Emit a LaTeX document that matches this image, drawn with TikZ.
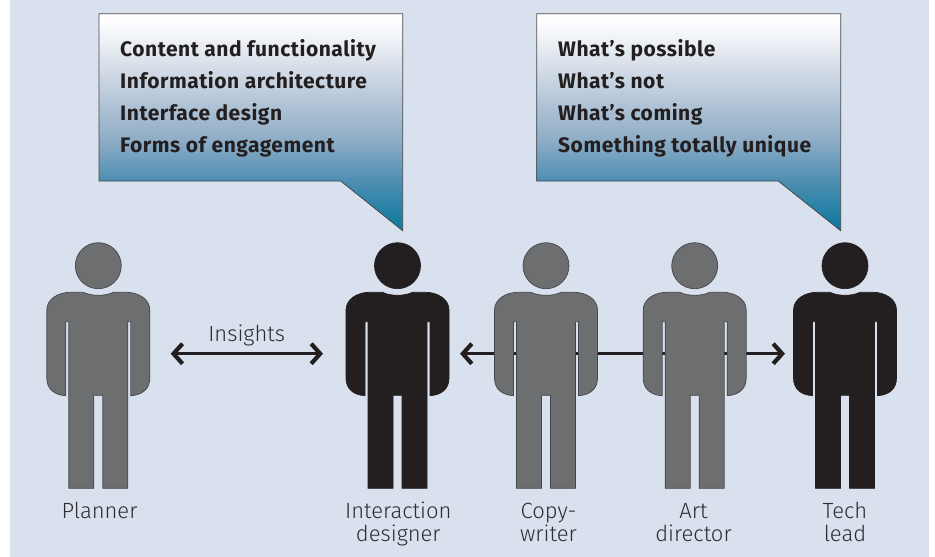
\documentclass[tikz,border=0pt]{standalone}
\usepackage{fontspec}
\setmainfont{Fira Sans}
\newfontfamily\bubblefont[LetterSpace=2.5]{Fira Sans}
\newfontfamily\labelfont{Fira Sans Light}
\usetikzlibrary{arrows.meta}
\definecolor{pagebg}{HTML}{D9E0EE}
\definecolor{persgray}{HTML}{6D6E70}
\definecolor{persdark}{HTML}{231F20}
\definecolor{edgegray}{HTML}{46474A}
\definecolor{labelcol}{HTML}{2E2E30}
\definecolor{gradA}{HTML}{DDE3EC}
\definecolor{gradB}{HTML}{B5C6D8}
\definecolor{gradC}{HTML}{8FADC6}
\definecolor{gradD}{HTML}{4F8FB2}
\definecolor{gradE}{HTML}{0A789E}
\pgfdeclareverticalshading{bubblegrad}{100bp}{
  color(0bp)=(gradE);
  color(25bp)=(gradE);
  color(36.8bp)=(gradD);
  color(46bp)=(gradC);
  color(55.2bp)=(gradB);
  color(64.4bp)=(gradA);
  color(73.6bp)=(white);
  color(100bp)=(white)
}
\tikzset{
  x=1pt, y=-1pt,
  persgrayst/.style={fill=persgray, draw=edgegray, line width=0.7pt},
  persdarkst/.style={fill=persdark, draw=persdark, line width=0.7pt},
  person/.pic={
    \path[pic actions] (0,265.7) circle[radius=23pt];
    \path[pic actions] (-29.5,488.3) -- (-29.5,321.7) -- (-32.5,321.7) -- (-32.5,395.7)
      .. controls (-44,395) and (-51.5,389) .. (-51.5,378)
      -- (-51.5,310)
      .. controls (-51.5,299) and (-40,292.3) .. (-28,292.3)
      -- (-15,292.3)
      .. controls (-7,296.3) and (7,296.3) .. (15,292.3)
      -- (28,292.3)
      .. controls (40,292.3) and (51.5,299) .. (51.5,310)
      -- (51.5,378)
      .. controls (51.5,389) and (44,395) .. (32.5,395.7)
      -- (32.5,321.7) -- (29.5,321.7) -- (29.5,488.3)
      -- (4.5,488.3) -- (4.5,395.3) -- (-4.5,395.3) -- (-4.5,488.3) -- cycle;
  },
  bubble/.style={shading=bubblegrad, draw=edgegray, line width=0.8pt, line join=miter},
  bubbletext/.style={anchor=base west, inner sep=0pt, text=persdark, font=\fontsize{21}{24}\bubblefont\bfseries},
  personlabel/.style={anchor=base, inner sep=0pt, text=labelcol, font=\fontsize{22}{24}\labelfont},
  link/.style={draw=persdark, line width=2.6pt, {Straight Barb[length=9pt,width=20pt,line width=4.2pt]}-{Straight Barb[length=9pt,width=20pt,line width=4.2pt]}},
}
\begin{document}
\begin{tikzpicture}
\useasboundingbox (0,0) rectangle (935,557);
\fill[white] (0,0) rectangle (935,557);
\fill[pagebg] (10,0) rectangle (929,557);

% bubbles
\path[bubble] (99,13.7) -- (402.7,13.7) -- (402.7,230.7) -- (340.7,181) -- (99,181) -- cycle;
\path[bubble] (536.7,13.7) -- (840.7,13.7) -- (840.7,230.7) -- (778.3,181) -- (536.7,181) -- cycle;

\node[bubbletext] (a1) at (120,56.7) {Content and functionality};
\node[bubbletext] (a2) at (120,88.7) {Information architecture};
\node[bubbletext] (a3) at (120,120.7) {Interface design};
\node[bubbletext] (a4) at (120,152.7) {Forms of engagement};
\node[bubbletext] (b1) at (558,56.7) {What’s possible};
\node[bubbletext] (b2) at (558,88.7) {What’s not};
\node[bubbletext] (b3) at (558,120.7) {What’s coming};
\node[bubbletext] (b4) at (558,152.7) {Something totally unique};

% connectors (behind the figures)
\coordinate (insL) at (170.7,353.7);
\coordinate (insR) at (323,353.7);
\coordinate (teamL) at (460,353.7);
\coordinate (teamR) at (785,353.7);
\draw[link] (insL) -- (insR);
\draw[link] (teamL) -- (teamR);
\node[personlabel] (ins) at (246.7,341.7) {Insights};

% figures
\pic[persgrayst] at (98.3,0) {person};
\pic[persdarkst] at (397.5,0) {person};
\pic[persgrayst] at (546,0) {person};
\pic[persgrayst] at (694.7,0) {person};
\pic[persdarkst] at (845,0) {person};

% labels
\node[personlabel] (l1) at (99.5,518) {Planner};
\node[personlabel] (l2a) at (398.3,518) {Interaction};
\node[personlabel] (l2b) at (398.3,541.7) {designer};
\node[personlabel] (l3a) at (548.5,518) {Copy-};
\node[personlabel] (l3b) at (548.5,541.7) {writer};
\node[personlabel] (l4a) at (693.5,518) {Art};
\node[personlabel] (l4b) at (693.5,541.7) {director};
\node[personlabel] (l5a) at (845,518) {Tech};
\node[personlabel] (l5b) at (845,541.7) {lead};
\end{tikzpicture}
\end{document}
